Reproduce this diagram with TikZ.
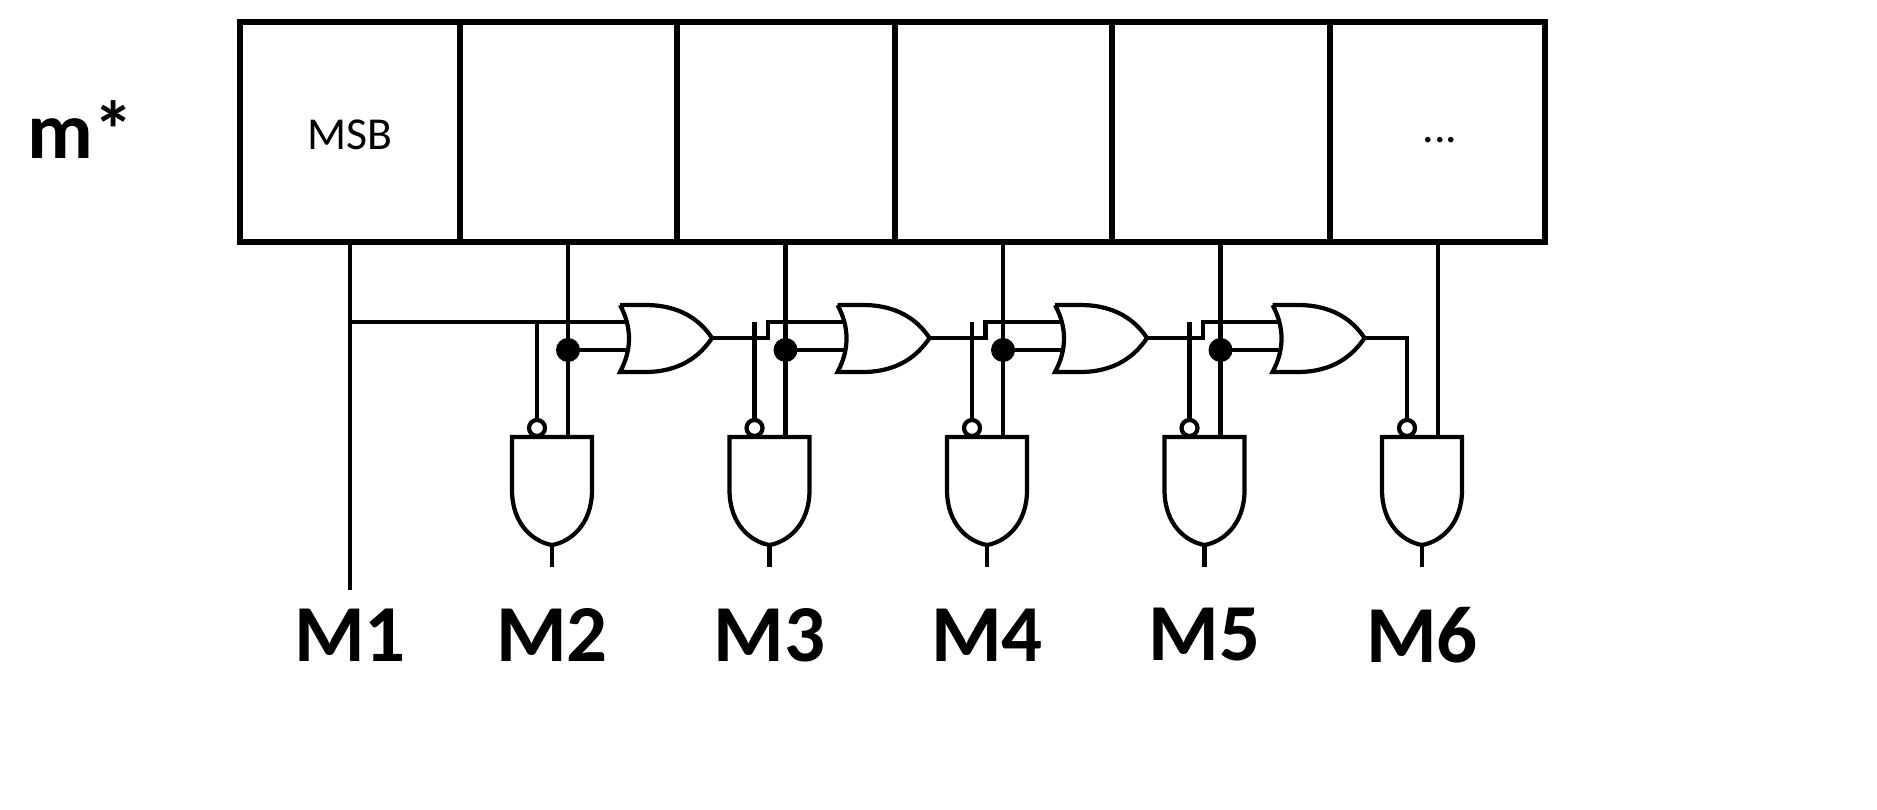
\documentclass[tikz,border=0pt]{standalone}
\usepackage{fontspec}
\setmainfont{Carlito}
\begin{document}
\begin{tikzpicture}[x=0.01cm,y=-0.01cm,
  reg/.style={line width=1.5pt},
  wire/.style={line width=1.2pt},
  gate/.style={line width=1.2pt,fill=white},
  lbl/.style={font=\bfseries\fontsize{23}{26}\selectfont},
  dotc/.style={circle,fill=black,inner sep=0pt,minimum size=0.24cm}]
\useasboundingbox (0,0) rectangle (1877,810);
% register
\draw[reg] (240,22) rectangle (1545,242);
\foreach \x in {460,677,895,1112,1330} \draw[reg] (\x,22) -- (\x,242);
\node[lbl,anchor=west] (mstar) at (15,130) {m*};
\node[font=\fontsize{13}{15}\selectfont] (msb) at (350,135) {MSB};
\node[font=\fontsize{13}{15}\selectfont] (dots) at (1440,140) {...};
% M1
\coordinate (b1) at (350,242);
\coordinate (m1end) at (350,590);
\draw[wire] (b1) -- (m1end);
\node[lbl] (M1) at (350,635) {M1};
% stages
\foreach \i/\lab in {0/M2,1/M3,2/M4,3/M5,4/M6}{
  \pgfmathsetmacro{\d}{217.5*\i}
  \begin{scope}[xshift=\d*0.01cm]
    \draw[gate] (512,437) -- (592,437) -- (592,490) .. controls (592,525) and (570,542) .. (552,545)
       .. controls (534,542) and (512,525) .. (512,490) -- cycle;
    \draw[wire] (552,545) -- (552,567);
    \draw[wire] (537,428) circle (8);
    \node[lbl] at (552,635) {\lab};
  \end{scope}
}
% OR gates and wiring stages 1-4
\foreach \i in {0,1,2,3}{
  \pgfmathsetmacro{\d}{217.5*\i}
  \begin{scope}[xshift=\d*0.01cm]
    \draw[wire] (568,242) -- (568,437);
    \node[dotc] at (568,350) {};
    \draw[wire] (568,350) -- (628,350);
    \draw[wire] (537,322) -- (537,420);
    \draw[gate] (620,305) -- (645,305) .. controls (680,305) and (700,320) .. (712,338)
       .. controls (700,356) and (680,372) .. (645,372) -- (620,372)
       .. controls (632,350) and (632,327) .. (620,305);
  \end{scope}
}
% top chain lines
\draw[wire] (b1 |- 0,322) -- (628,322);
\foreach \i in {1,2,3}{
  \pgfmathsetmacro{\d}{217.5*(\i-1)}
  \begin{scope}[xshift=\d*0.01cm]
    \draw[wire] (712,338) -- (768,338) -- (768,322) -- (845.5,322);
    \draw[wire] (754.5,338) -- (754.5,420);
  \end{scope}
}
% last stage
\draw[wire] (1364.5,338) -- (1407,338) -- (1407,420);
\draw[wire] (1438,242) -- (1438,437);
\end{tikzpicture}
\end{document}
